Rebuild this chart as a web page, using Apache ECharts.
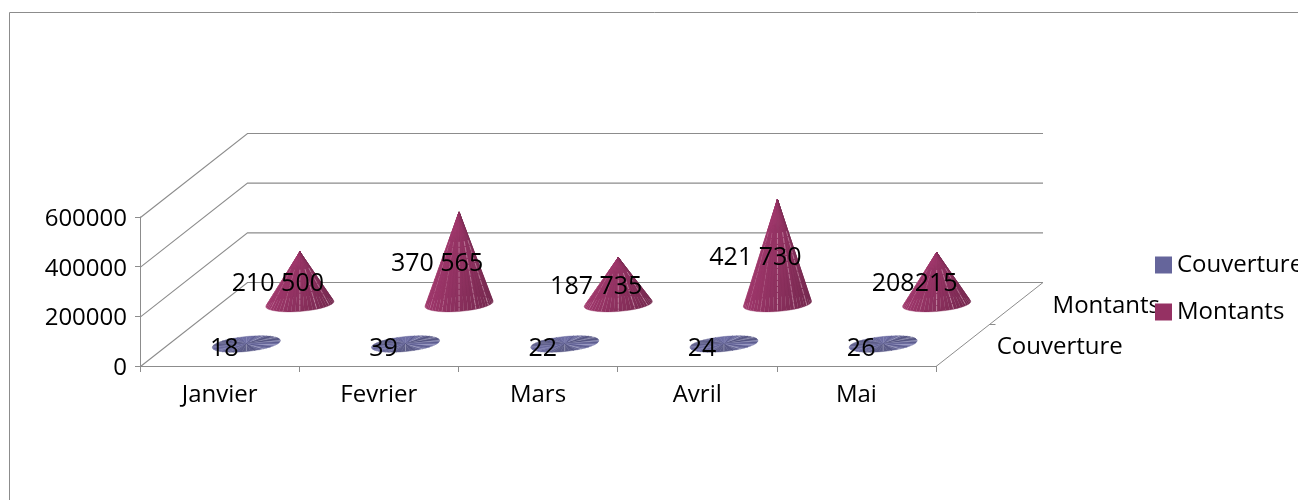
<!DOCTYPE html>
<html><head><meta charset="utf-8">
<script src="https://cdn.jsdelivr.net/npm/echarts@6/dist/echarts.min.js"></script>
<style>html,body{margin:0;padding:0;background:#fff}#c{width:1298px;height:500px}</style>
</head><body><div id="c"></div>
<script>
const categories = ['Janvier','Fevrier','Mars','Avril','Mai'];
const seriesNames = ['Couverture','Montants'];
const couverture = [18,39,22,24,26];
const montants = [210500,370565,187735,421730,208215];
const couvertureLabels = ['18','39','22','24','26'];
const montantsLabels = ['210 500','370 565','187 735','421 730','208215'];
const yTicks = [0,200000,400000,600000];

const FONT = '"Open Sans"';
const FS = 24;
const GREY = '#8c8c8c';
const DX = 107, DY = -84;           // full depth of the 3D floor, in pixels

function mix(c, f){
  return 'rgb(' + c.map(v => Math.max(0, Math.min(255, Math.round(v * f)))).join(',') + ')';
}
function coneItem(depth, labels, base, disc){
  return function(params, api){
    const i = api.value(0), v = api.value(1);
    const p0 = api.coord([i, 0]), p1 = api.coord([i, v]);
    const ox = DX * depth, oy = DY * depth;
    const cx = p0[0] + ox, cy = p0[1] + oy + (disc ? -1 : 1);
    const ax = p1[0] + ox, ay = p1[1] + oy + (disc ? -1 : 1);
    const a = 34, b = disc ? 7.5 : 7.5, skew = disc ? 0.1 : 0.075;
    const N = 48, pts = [];
    for (let k = 0; k < N; k++){
      const t = k / N * 2 * Math.PI;
      pts.push([cx + a * Math.cos(t), cy + b * Math.sin(t) - skew * a * Math.cos(t), t]);
    }
    const order = [];
    for (let k = 0; k < N; k++) order.push(k);
    order.sort((m, n) => Math.sin(pts[m][2]) - Math.sin(pts[n][2]));
    const children = [];
    order.forEach(k => {
      const p = pts[k], q = pts[(k + 1) % N];
      const c = Math.cos(p[2]);
      const f = disc ? (1.0 + 0.1 * Math.sin(p[2] * 3)) : (0.94 - 0.15 * c);
      const col = mix(base, f);
      children.push({
        type: 'polygon',
        shape: { points: [[ax, ay], [p[0], p[1]], [q[0], q[1]]] },
        style: disc ? { fill: col, stroke: col, lineWidth: 0.4 } : {
          fill: { type: 'linear', x: 0, y: 0, x2: 0, y2: 1, colorStops: [
            { offset: 0, color: mix(base, 1.32) }, { offset: 0.28, color: mix(base, 1.05) }, { offset: 1, color: col }
          ]},
          stroke: col, lineWidth: 0.3
        }
      });
      if (k % 4 === 0 && (disc || Math.sin(p[2]) > 0)){
        const s = disc ? 0 : 0.3;
        children.push({
          type: 'line',
          shape: { x1: ax + (p[0] - ax) * s, y1: ay + (p[1] - ay) * s, x2: p[0], y2: p[1] },
          style: { stroke: disc ? 'rgba(225,225,240,0.4)' : 'rgba(255,225,240,0.42)', lineWidth: 0.9, lineDash: disc ? null : [5, 1] }
        });
      }
      if (disc && k % 4 === 2){
        children.push({
          type: 'line',
          shape: { x1: ax, y1: ay, x2: p[0], y2: p[1] },
          style: { stroke: 'rgba(40,40,90,0.45)', lineWidth: 0.8 }
        });
      }
    });
    children.push({
      type: 'text',
      z2: 100,
      style: {
        text: labels[params.dataIndex],
        x: cx - 22,
        y: (ay + cy) / 2 + (disc ? 5 : 6),
        align: 'center', verticalAlign: 'middle',
        font: (FS + 1) + 'px ' + FONT,
        fill: '#000'
      }
    });
    return { type: 'group', children };
  };
}

const chart = echarts.init(document.getElementById('c'), null, { renderer: 'canvas' });
chart.setOption({
  animation: false,
  backgroundColor: '#fff',
  graphic: [{
    type: 'polyline', silent: true, z: 0,
    shape: { points: [[1300, 12.5], [9.5, 12.5], [9.5, 502]] },
    style: { stroke: GREY, lineWidth: 1, fill: null }
  }],
  legend: {
    orient: 'vertical', left: 1150, top: 248,
    itemWidth: 17, itemHeight: 17, itemGap: 23, icon: 'rect',
    data: seriesNames,
    textStyle: { fontFamily: FONT, fontSize: FS, color: '#000' }
  },
  grid: { left: 140, right: 362, top: 217, bottom: 134, containLabel: false },
  xAxis: {
    type: 'category', data: categories,
    axisLine: { lineStyle: { color: GREY, width: 1 } },
    axisTick: { show: true, length: 6, alignWithLabel: false, lineStyle: { color: GREY } },
    axisLabel: { fontFamily: FONT, fontSize: FS, color: '#000', margin: 17 },
    splitLine: { show: false }
  },
  yAxis: {
    type: 'value', min: 0, max: 600000, interval: 200000,
    axisLine: { show: true, lineStyle: { color: GREY, width: 1 } },
    axisTick: { show: true, length: 5, lineStyle: { color: GREY } },
    axisLabel: { fontFamily: FONT, fontSize: FS, color: '#000', margin: 13, formatter: v => String(v), verticalAlign: 'top', lineHeight: 4 },
    splitLine: { show: false }
  },
  series: [
    {
      type: 'custom', name: 'walls', silent: true, z: 1, clip: false,
      data: yTicks.map(v => [0, v]),
      renderItem(params, api){
        const y = api.coord([0, api.value(1)])[1] + 0.5;
        const x = params.coordSys.x + 0.5;
        const r = params.coordSys.x + params.coordSys.width;
        const children = [{
          type: 'polyline',
          shape: { points: [[x, y], [x + DX, y + DY], [r + DX, y + DY]] },
          style: { stroke: GREY, lineWidth: 1.1, fill: null }
        }];
        if (api.value(1) === 0){
          children.push({
            type: 'line', shape: { x1: r, y1: y, x2: r + DX, y2: y + DY },
            style: { stroke: GREY, lineWidth: 1 }
          });
          const d = 0.5;
          children.push({
            type: 'line',
            shape: { x1: r + DX * d, y1: y + DY * d, x2: r + DX * d + 6, y2: y + DY * d },
            style: { stroke: GREY, lineWidth: 1 }
          });
          seriesNames.forEach((name, k) => {
            const f = (k + 0.5) / 2;
            children.push({
              type: 'text',
              style: {
                text: name,
                x: r + DX * f + (k === 0 ? 97 : 90), y: y + DY * f + (k === 0 ? 2 : 3),
                align: 'center', verticalAlign: 'middle',
                font: FS + 'px ' + FONT, fill: '#000'
              }
            });
          });
        }
        return { type: 'group', children };
      }
    },
    {
      type: 'custom', name: seriesNames[1], z: 3, clip: false,
      itemStyle: { color: '#953163' },
      data: montants.map((v, i) => [i, v]),
      renderItem: coneItem(0.75, montantsLabels, [146, 50, 98], false)
    },
    {
      type: 'custom', name: seriesNames[0], z: 4, clip: false,
      itemStyle: { color: '#65659b' },
      data: couverture.map((v, i) => [i, v]),
      renderItem: coneItem(0.25, couvertureLabels, [101, 101, 150], true)
    }
  ]
});
</script></body></html>
